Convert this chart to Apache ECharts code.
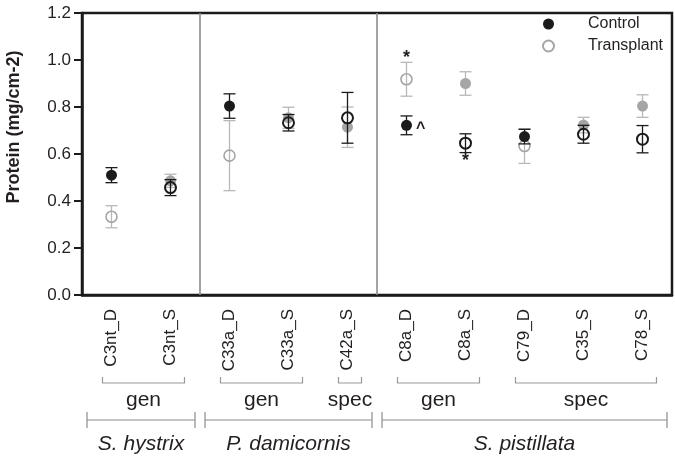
<!DOCTYPE html>
<html><head><meta charset="utf-8">
<script src="https://cdn.jsdelivr.net/npm/echarts@6/dist/echarts.min.js"></script>
<style>html,body{margin:0;padding:0;background:#fff}#c{width:675px;height:458px}</style>
</head><body><div id="c"></div>
<script>
// ---------- data ----------
const categories = ['C3nt_D','C3nt_S','C33a_D','C33a_S','C42a_S','C8a_D','C8a_S','C79_D','C35_S','C78_S'];
const controlMean    = [0.510, 0.486, 0.804, 0.754, 0.714, 0.722, 0.900, 0.674, 0.723, 0.804];
const controlSE      = [0.032, 0.028, 0.052, 0.045, 0.086, 0.040, 0.050, 0.031, 0.033, 0.048];
const transplantMean = [0.333, 0.457, 0.593, 0.733, 0.754, 0.918, 0.646, 0.634, 0.684, 0.663];
const transplantSE   = [0.047, 0.034, 0.149, 0.035, 0.108, 0.072, 0.040, 0.074, 0.038, 0.058];
const yTicks = [0, 0.2, 0.4, 0.6, 0.8, 1.0, 1.2];
const annotations = [
  {cat:'C8a_D', group:'Transplant', text:'*', side:'top'},
  {cat:'C8a_D', group:'Control',    text:'^', side:'right'},
  {cat:'C8a_S', group:'Transplant', text:'*', side:'bottom'}
];
const subGroups = [
  {label:'gen',  from:'C3nt_D', to:'C3nt_S'},
  {label:'gen',  from:'C33a_D', to:'C33a_S'},
  {label:'spec', from:'C42a_S', to:'C42a_S'},
  {label:'gen',  from:'C8a_D',  to:'C8a_S'},
  {label:'spec', from:'C79_D',  to:'C78_S'}
];
const species = [
  {label:'S. hystrix',    from:'C3nt_D', to:'C3nt_S'},
  {label:'P. damicornis', from:'C33a_D', to:'C42a_S'},
  {label:'S. pistillata', from:'C8a_D',  to:'C78_S'}
];

// ---------- styles ----------
const FONT = '"Liberation Sans", Arial, Helvetica, sans-serif';
const TEXT = '#231f20';
const BLACK = '#1b1b1b', GRAY = '#a5a5a5', GRAY_ERR = '#b8b8b8', LINE_GRAY = '#8c8c8c';

const isS = i => categories[i].endsWith('_S');
const idx = c => categories.indexOf(c);
const annotStyle = {
  top:    {position:'top', distance:6, fontSize:18, offset:[0,0]},
  right:  {position:'right', distance:4, fontSize:16, offset:[0,3]},
  bottom: {position:'bottom', distance:2, fontSize:18, offset:[0,0]}
};
function point(i, mean, group) {
  const item = {value:[i, mean]};
  const a = annotations.find(x => x.cat === categories[i] && x.group === group);
  if (a) {
    const s = annotStyle[a.side];
    item.label = {show:true, formatter:a.text, position:s.position, distance:s.distance, offset:s.offset,
      fontSize:s.fontSize, fontWeight:'bold', color:TEXT, fontFamily:FONT};
  }
  return item;
}
function pick(means, ses, wantS, group) {
  const pts = [], errs = [];
  means.forEach((m, i) => {
    if (isS(i) === wantS) {
      pts.push(point(i, m, group));
      errs.push([i, m - ses[i], m + ses[i]]);
    }
  });
  return {pts, errs};
}
const ctrlD = pick(controlMean, controlSE, false, 'Control');
const ctrlS = pick(controlMean, controlSE, true, 'Control');
const trD = pick(transplantMean, transplantSE, false, 'Transplant');
const trS = pick(transplantMean, transplantSE, true, 'Transplant');

function errRender(color, width) {
  return function (params, api) {
    const lo = api.coord([api.value(0), api.value(1)]);
    const hi = api.coord([api.value(0), api.value(2)]);
    const hw = 6;
    const st = {stroke:color, lineWidth:width};
    return {type:'group', children:[
      {type:'line', shape:{x1:lo[0], y1:lo[1], x2:hi[0], y2:hi[1]}, style:st},
      {type:'line', shape:{x1:lo[0]-hw, y1:lo[1], x2:lo[0]+hw, y2:lo[1]}, style:st},
      {type:'line', shape:{x1:hi[0]-hw, y1:hi[1], x2:hi[0]+hw, y2:hi[1]}, style:st}
    ]};
  };
}

const chart = echarts.init(document.getElementById('c'), null, {renderer:'canvas'});
chart.setOption({
  animation:false,
  textStyle:{fontFamily:FONT},
  grid:{left:82, right:3, top:13, bottom:163, show:true, borderColor:BLACK, borderWidth:2.5},
  legend:{
    data:['Control','Transplant'], orient:'vertical', left:542, top:16, padding:0,
    itemWidth:11, itemHeight:11, itemGap:6, icon:'circle',
    formatter: n => '{t|' + n + '}',
    textStyle:{fontFamily:FONT, rich:{t:{fontSize:16, color:TEXT, padding:[0,0,0,29], fontFamily:FONT}}}
  },
  xAxis:{
    type:'category', data:categories, boundaryGap:true,
    axisLine:{lineStyle:{color:BLACK, width:2.5}},
    axisTick:{alignWithLabel:true, length:7, lineStyle:{color:BLACK, width:2.5}},
    axisLabel:{rotate:90, fontSize:17, margin:14, color:TEXT, fontFamily:FONT},
    splitLine:{show:false}
  },
  yAxis:{
    type:'value', min:yTicks[0], max:yTicks[yTicks.length-1], interval:yTicks[1]-yTicks[0],
    axisLine:{show:true, lineStyle:{color:BLACK, width:2.5}},
    axisTick:{show:true, length:8, lineStyle:{color:BLACK, width:2}},
    axisLabel:{fontSize:17, margin:11, color:TEXT, fontFamily:FONT, formatter:v => v.toFixed(1)},
    splitLine:{show:false}
  },
  series:[
    {type:'custom', name:'errGray', z:2, renderItem:errRender(GRAY_ERR, 1.3),
     encode:{x:0, y:[1,2]}, data:ctrlS.errs.concat(trD.errs)},
    {type:'scatter', name:'Control (S)', z:3, symbol:'circle', symbolSize:11,
     itemStyle:{color:GRAY, opacity:1}, data:ctrlS.pts},
    {type:'scatter', name:'Transplant', z:3, symbol:'circle', symbolSize:11,
     itemStyle:{color:'rgba(255,255,255,0)', borderColor:GRAY, borderWidth:1.6, opacity:1}, data:trD.pts},
    {type:'custom', name:'errBlack', z:4, renderItem:errRender(BLACK, 1.3),
     encode:{x:0, y:[1,2]}, data:ctrlD.errs.concat(trS.errs)},
    {type:'scatter', name:'Control', z:5, symbol:'circle', symbolSize:11,
     itemStyle:{color:BLACK, opacity:1}, data:ctrlD.pts},
    {type:'scatter', name:'Transplant (S)', z:5, symbol:'circle', symbolSize:11,
     itemStyle:{color:'rgba(255,255,255,0)', borderColor:BLACK, borderWidth:2, opacity:1}, data:trS.pts}
  ]
});

// ---------- annotations below the axis, placed through the axis scale ----------
function px(i) { return chart.convertToPixel({xAxisIndex:0}, i); }
const band = px(1) - px(0);
const gridTop = chart.convertToPixel({yAxisIndex:0}, yTicks[yTicks.length-1]);
const gridBottom = chart.convertToPixel({yAxisIndex:0}, yTicks[0]);
const g = [];
species.forEach((s, k) => {
  const a = idx(s.from), b = idx(s.to);
  const x1 = px(a) - band/2 + 5, x2 = px(b) + band/2 - 5;
  if (k < species.length - 1) {
    const sx = (px(b) + px(b+1)) / 2;
    g.push({type:'line', shape:{x1:sx, y1:gridTop, x2:sx, y2:gridBottom}, style:{stroke:LINE_GRAY, lineWidth:1.6}, z:1});
  }
  const st = {stroke:LINE_GRAY, lineWidth:1.2};
  g.push({type:'line', shape:{x1:x1, y1:420, x2:x2, y2:420}, style:st});
  g.push({type:'line', shape:{x1:x1, y1:412, x2:x1, y2:428}, style:st});
  g.push({type:'line', shape:{x1:x2, y1:412, x2:x2, y2:428}, style:st});
  g.push({type:'text', style:{text:s.label, x:(x1+x2)/2, y:444, align:'center', verticalAlign:'middle',
    font:'italic 21px ' + FONT, fill:TEXT}});
});
subGroups.forEach(s => {
  const x1 = px(idx(s.from)) - 9, x2 = px(idx(s.to)) + 14;
  g.push({type:'polyline', shape:{points:[[x1,377],[x1,383],[x2,383],[x2,377]]}, style:{stroke:'#999', lineWidth:1.2, fill:null}});
  g.push({type:'text', style:{text:s.label, x:(x1+x2)/2, y:400, align:'center', verticalAlign:'middle',
    font:'21px ' + FONT, fill:TEXT}});
});
g.push({type:'text', rotation:Math.PI/2, x:14, y:127, style:{text:'Protein (mg/cm-2)', x:0, y:0,
  align:'center', verticalAlign:'middle', font:'bold 18px ' + FONT, fill:TEXT}});
chart.setOption({graphic:{elements:g}});
</script></body></html>
